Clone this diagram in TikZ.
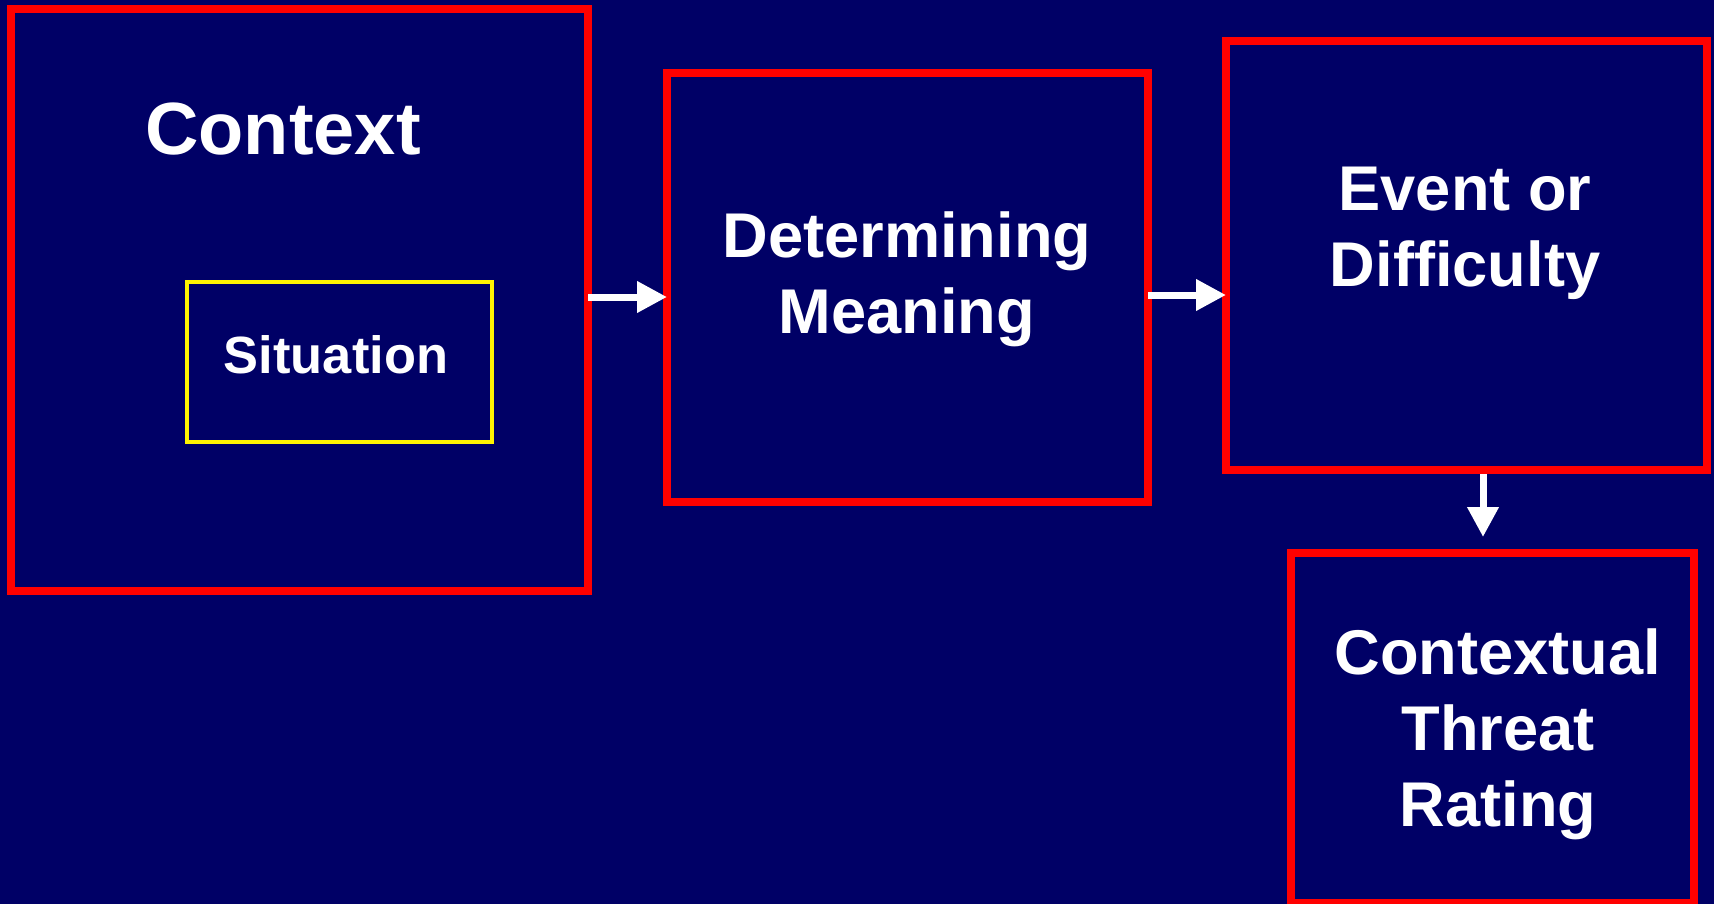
\documentclass[tikz,border=0pt]{standalone}
\usepackage{fontspec}
\setmainfont{Liberation Sans}
\usepackage{xcolor}
\usepackage{tikz}
\usetikzlibrary{arrows.meta}

\definecolor{slidenavy}{RGB}{0,0,102}

\begin{document}
\begin{tikzpicture}[
    x=0.5pt, y=-0.5pt,
    >={Triangle[length=15pt, width=15pt]},
    stagebox/.style={rectangle, draw=red, line width=4pt, inner sep=0pt, outer sep=0pt},
    innerbox/.style={rectangle, draw=yellow, line width=2pt, inner sep=0pt, outer sep=0pt},
    flow/.style={->, draw=white, line width=3.5pt},
    every node/.style={text=white, align=center, font=\bfseries\fontsize{31.6}{38}\selectfont}
  ]
  % Background
  \path[use as bounding box, fill=slidenavy] (0,0) rectangle (1714,904);

  % Context
  \node[stagebox, minimum width=288.5pt, minimum height=291pt] (ctx) at (299.5,300) {};
  \node[anchor=base, font=\bfseries\fontsize{37}{44}\selectfont] (ctxlabel) at (283,155) {Context};
  \node[innerbox, minimum width=152.5pt, minimum height=80pt] (sit) at (339.5,362) {};
  \node[anchor=base, font=\bfseries\fontsize{26.2}{31}\selectfont] (sitlabel) at (336,373) {Situation};

  % Determining meaning
  \node[stagebox, minimum width=240.5pt, minimum height=214.5pt] (dm) at (907.5,287.5) {};
  \node[anchor=base] (dmlabel) at (907,333) {Determining\\Meaning};

  % Event or difficulty
  \node[stagebox, minimum width=240.5pt, minimum height=214.5pt] (evt) at (1466.5,255.5) {};
  \node[anchor=base] (evtlabel) at (1465,286) {Event or\\Difficulty};

  % Contextual threat rating
  \node[stagebox, minimum width=201.5pt, minimum height=175pt] (ctr) at (1492.5,728) {};
  \node[anchor=base] (ctrlabel) at (1498,826) {Contextual\\Threat\\Rating};

  % Arrows
  \coordinate (ctrtip) at (1483,537);
  \draw[flow] (ctx.east |- 0,297) -- (dm.west |- 0,297);
  \draw[flow] (dm.east |- 0,295) -- (evt.west |- 0,295);
  \draw[flow, shorten <=2pt] (evt.south -| ctrtip) -- (ctrtip);
\end{tikzpicture}
\end{document}
